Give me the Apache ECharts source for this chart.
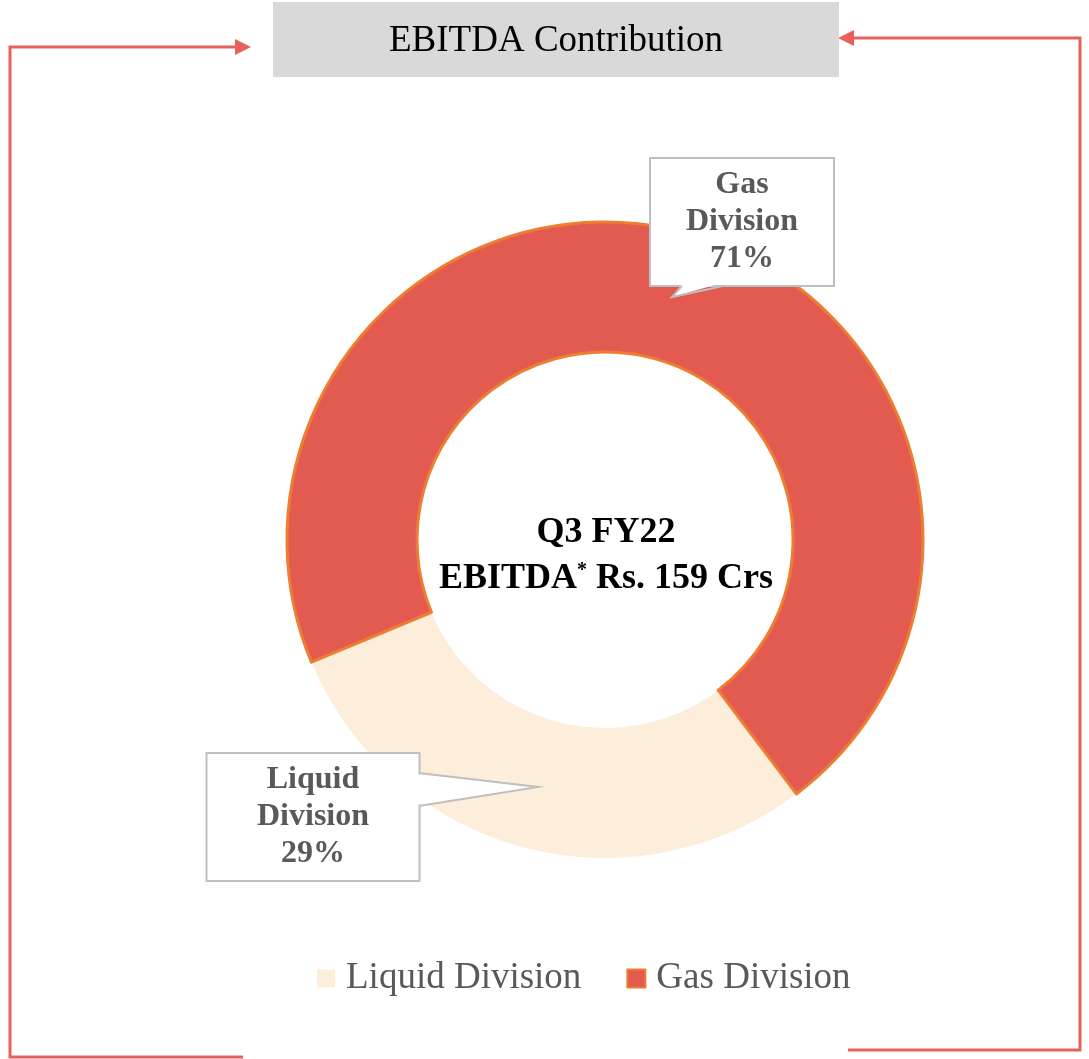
<!DOCTYPE html>
<html>
<head>
<meta charset="utf-8">
<script src="https://cdn.jsdelivr.net/npm/echarts@6/dist/echarts.min.js"></script>
<style>
  html, body { margin: 0; padding: 0; background: #fff; }
  #chart { width: 1089px; height: 1059px; }
</style>
</head>
<body>
<div id="chart"></div>
<script>
// 数据
const divisions = ['Liquid Division', 'Gas Division']
const shares = [29, 71]
const colors = ['#FDEEDB', '#E35B50']
const borders = ['#FDEEDB', '#ED7D31']
const centerLines = ['Q3 FY22', 'EBITDA', '*', ' Rs. 159 Crs']
const chartTitle = 'EBITDA Contribution'

// callout boxes (centre, width) and tails (edge, tip, edge)
const callouts = [
  { x: 313, y: 817, w: 211, tail: [[419, 773], [538, 787], [419, 806]], fill: [[416, 774], [538, 787], [416, 805]] },
  { x: 742, y: 222, w: 182, tail: [[682, 286], [672, 297], [723, 286]], fill: [[683, 283], [672, 297], [722, 283]] }
]

const FONT = '"Liberation Serif", "DejaVu Serif", serif'
const RED = '#E8605A'

const chart = echarts.init(document.getElementById('chart'))

function arrowHead(tipX, tipY, dir) {
  // dir = 1 pointing right, -1 pointing left
  return {
    type: 'polygon',
    shape: { points: [[tipX, tipY], [tipX - dir * 16, tipY - 8], [tipX - dir * 16, tipY + 8]] },
    style: { fill: RED }
  }
}

const tails = []
callouts.forEach(c => {
  tails.push({ type: 'polygon', z: 10, shape: { points: c.fill }, style: { fill: '#fff' } })
  tails.push({ type: 'polyline', z: 10, shape: { points: c.tail }, style: { stroke: '#BFBFBF', lineWidth: 2, fill: null } })
})

chart.setOption({
  animation: false,
  legend: {
    bottom: 57,
    left: 312,
    icon: 'rect',
    itemWidth: 18,
    itemHeight: 18,
    itemGap: 45,
    textStyle: { fontFamily: FONT, fontSize: 37, color: '#595959', padding: [0, 0, 0, 6] },
    data: divisions
  },
  graphic: [
    {
      type: 'polyline',
      shape: { points: [[236, 47], [10, 47], [10, 1057], [243, 1057]] },
      style: { stroke: RED, lineWidth: 3, fill: null }
    },
    arrowHead(251, 47, 1),
    {
      type: 'polyline',
      shape: { points: [[852, 38], [1080, 38], [1080, 1050], [848, 1050]] },
      style: { stroke: RED, lineWidth: 3, fill: null }
    },
    arrowHead(838, 38, -1),
    {
      type: 'rect',
      shape: { x: 273, y: 2, width: 566, height: 75 },
      style: { fill: '#D9D9D9' }
    },
    {
      type: 'text',
      x: 556, y: 41,
      style: {
        text: chartTitle, fontFamily: FONT, fontSize: 37, fill: '#000',
        align: 'center', verticalAlign: 'middle'
      }
    },
    {
      type: 'text',
      x: 606, y: 556,
      style: {
        text: '{b|' + centerLines[0] + '}\n{b|' + centerLines[1] + '}{s|' + centerLines[2] + '}{b|' + centerLines[3] + '}',
        align: 'center', verticalAlign: 'middle',
        rich: {
          b: { fontFamily: FONT, fontSize: 36, fontWeight: 'bold', fill: '#000', lineHeight: 46 },
          s: { fontFamily: FONT, fontSize: 20, fontWeight: 'bold', fill: '#000', lineHeight: 46, padding: [0, 0, 16, 0] }
        }
      }
    }
  ].concat(tails),
  series: [{
    type: 'pie',
    center: [605, 540],
    radius: [188, 318],
    startAngle: -53,
    clockwise: true,
    label: {
      show: true,
      fontFamily: FONT,
      fontSize: 32,
      fontWeight: 'bold',
      color: '#595959',
      lineHeight: 37,
      align: 'center',
      backgroundColor: '#fff',
      borderColor: '#BFBFBF',
      borderWidth: 2,
      padding: [15, 0, 0, 0],
      formatter: p => p.name.replace(' ', '\n') + '\n' + p.value + '%'
    },
    labelLine: { show: false },
    labelLayout: p => {
      const c = callouts[p.dataIndex]
      return { x: c.x, y: c.y, align: 'center', verticalAlign: 'middle' }
    },
    data: divisions.map((name, i) => ({
      name,
      value: shares[i],
      label: { width: callouts[i].w },
      itemStyle: { color: colors[i], borderColor: borders[i], borderWidth: i === 1 ? 3 : 0 }
    }))
  }]
})
</script>
</body>
</html>
